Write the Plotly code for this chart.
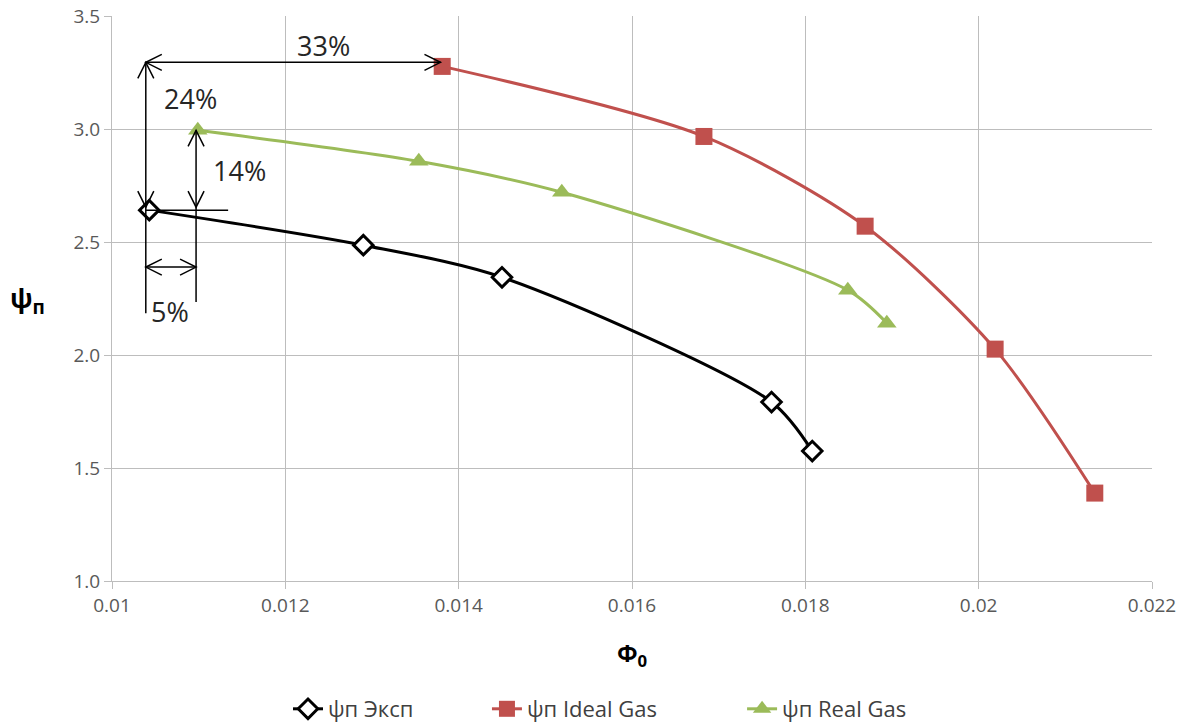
import plotly.graph_objects as go

# ---- data ----
exp_x = [0.01043, 0.0129, 0.0145, 0.01761, 0.01808]
exp_y = [2.641, 2.486, 2.344, 1.792, 1.575]

ideal_x = [0.01381, 0.01683, 0.01869, 0.02019, 0.02134]
ideal_y = [3.277, 2.967, 2.570, 2.026, 1.389]

real_x = [0.01099, 0.01354, 0.01519, 0.01849, 0.01894]
real_y = [2.994, 2.857, 2.720, 2.287, 2.141]

names = ["ψп Эксп", "ψп Ideal Gas", "ψп Real Gas"]

x_ticks = [0.01, 0.012, 0.014, 0.016, 0.018, 0.02, 0.022]
x_tick_text = ["0.01", "0.012", "0.014", "0.016", "0.018", "0.02", "0.022"]
y_ticks = [1.0, 1.5, 2.0, 2.5, 3.0, 3.5]
y_tick_text = ["1.0", "1.5", "2.0", "2.5", "3.0", "3.5"]

# annotation geometry (data coordinates)
xa = 0.01039      # left vertical reference line
xb = 0.01379      # end of 33% arrow
xc = 0.01097      # 14% vertical line
y_top = 3.295
y_ref = 2.641
labels = [("33%", 0.01244, 3.37), ("24%", 0.0109, 3.135),
          ("14%", 0.01147, 2.817), ("5%", 0.01067, 2.194)]

FONT = "Open Sans"
fig = go.Figure()

fig.add_trace(go.Scatter(
    x=exp_x, y=exp_y, name=names[0] + "\u00a0" * 12, mode="lines+markers",
    line=dict(color="black", width=3, shape="spline", smoothing=0.8),
    marker=dict(symbol="diamond", size=15, color="white",
                line=dict(color="black", width=3))))
fig.add_trace(go.Scatter(
    x=ideal_x, y=ideal_y, name=names[1] + "\u00a0" * 14, mode="lines+markers",
    line=dict(color="#C0504D", width=3, shape="spline", smoothing=0.8),
    marker=dict(symbol="square", size=17, color="#C0504D")))
fig.add_trace(go.Scatter(
    x=real_x, y=real_y, name=names[2], mode="lines+markers",
    line=dict(color="#9BBB59", width=3, shape="spline", smoothing=0.8),
    marker=dict(symbol="triangle-up", size=17, color="#9BBB59")))

shapes = []
LW = 1.5


def line(x0, y0, x1, y1):
    shapes.append(dict(type="line", xref="x", yref="y", x0=x0, y0=y0,
                       x1=x1, y1=y1, line=dict(color="black", width=LW)))


def head(x, y, d, L=16, W=8):
    if d == "left":
        p = f"M {L},{W} L 0,0 L {L},{-W}"
    elif d == "right":
        p = f"M {-L},{W} L 0,0 L {-L},{-W}"
    elif d == "up":
        p = f"M {-W},{-L} L 0,0 L {W},{-L}"
    else:
        p = f"M {-W},{L} L 0,0 L {W},{L}"
    shapes.append(dict(type="path", xref="x", yref="y", xsizemode="pixel",
                       ysizemode="pixel", xanchor=x, yanchor=y, path=p,
                       line=dict(color="black", width=LW)))


# 33% horizontal arrow
line(xa, y_top, xb, y_top)
head(xa, y_top, "left")
head(xb, y_top, "right")
# 24% vertical arrow (line continues down)
line(xa, y_top, xa, 2.185)
head(xa, y_top, "up")
head(xa, 2.654, "down")
# 14% vertical arrow
line(xc, 2.994, xc, 2.234)
head(xc, 2.994, "up")
head(xc, 2.654, "down")
# reference horizontal line
line(xa, y_ref, 0.01134, y_ref)
# 5% horizontal arrow
line(xa, 2.389, xc, 2.389)
head(xa, 2.389, "left")
head(xc, 2.389, "right")

# page body has an 8px margin -> compensate
OFF = 8
W, H = 1188 - OFF, 726 - OFF
ML, MR, MT, MB = 112 - OFF, 36, 16 - OFF, 145
PW, PH = W - ML - MR, H - MT - MB

annotations = [dict(text=t, x=x, y=y, xref="x", yref="y", showarrow=False,
                    font=dict(family=FONT, size=27, color="#262626"))
               for t, x, y in labels]
annotations.append(dict(text="<b>ψ<sub>п</sub></b>",
                        x=(27 - 112) / PW, y=(581 - 300) / PH,
                        xref="paper", yref="paper", showarrow=False,
                        xanchor="center", yanchor="middle",
                        font=dict(family=FONT, size=27, color="black")))

fig.update_layout(
    width=W, height=H,
    margin=dict(l=ML, r=MR, t=MT, b=MB, autoexpand=False),
    paper_bgcolor="white", plot_bgcolor="white",
    shapes=shapes, annotations=annotations,
    showlegend=True,
    legend=dict(orientation="h", x=(288 - 112) / PW, xanchor="left",
                y=-(MB + 4) / PH, yanchor="bottom",
                font=dict(family=FONT, size=22, color="#404040")),
    font=dict(family=FONT),
)

axis_common = dict(showgrid=True, gridcolor="#BDBDBD", gridwidth=1,
                   showline=True, linecolor="#BDBDBD", linewidth=1,
                   ticks="outside", ticklen=7, tickcolor="#BDBDBD",
                   tickfont=dict(family=FONT, size=19, color="#595959"),
                   ticklabeloverflow="allow",
                   zeroline=False, automargin=False)
fig.update_xaxes(range=[0.01, 0.022], tickvals=x_ticks, ticktext=x_tick_text,
                 title=dict(text="<b>Φ<sub>0</sub></b>",
                            font=dict(family=FONT, size=24, color="black"),
                            standoff=28),
                 **axis_common)
fig.update_yaxes(range=[1.0, 3.5], tickvals=y_ticks, ticktext=y_tick_text,
                 **axis_common)

fig.write_html("out.html")
